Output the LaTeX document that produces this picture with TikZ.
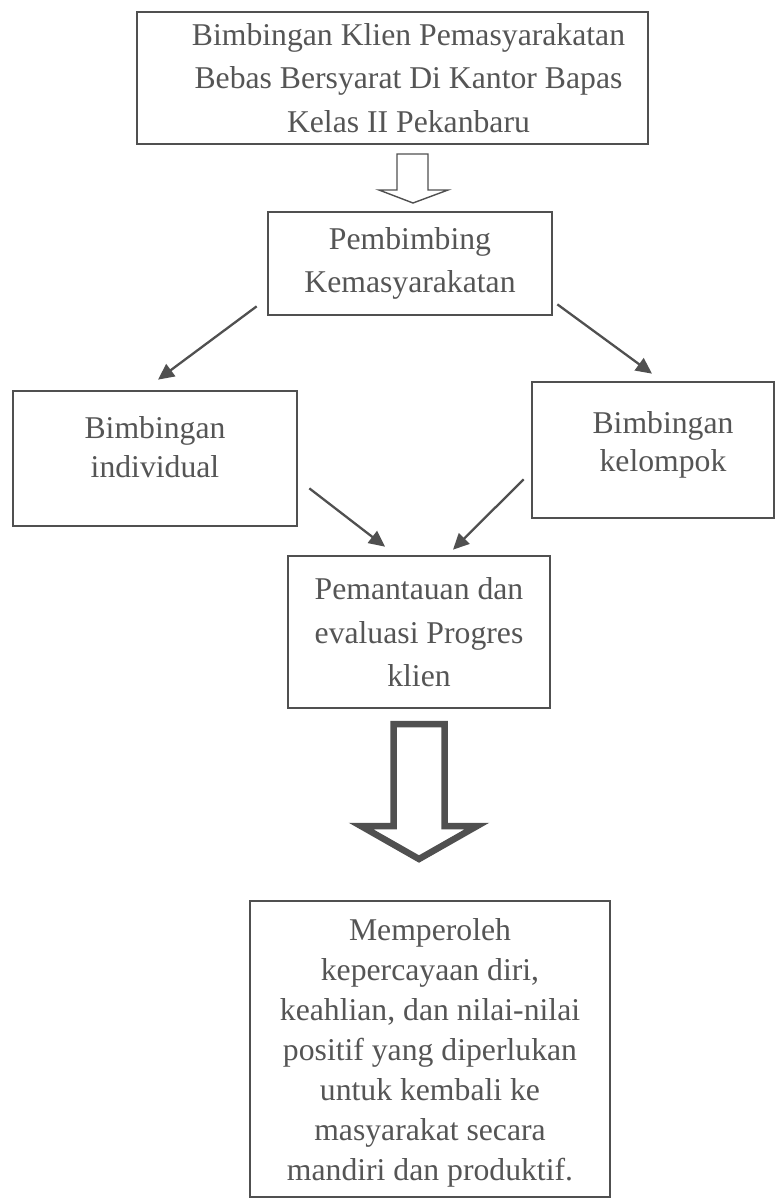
\documentclass[tikz,border=0pt]{standalone}
\usepackage{fontspec}
\setmainfont{Liberation Serif}
\usetikzlibrary{arrows.meta}
\definecolor{lc}{HTML}{505050}
\definecolor{tc}{HTML}{555555}
\newcommand{\ind}[1]{\hspace*{#1}}
\begin{document}
\begin{tikzpicture}[x=0.5pt,y=-0.5pt,
  box/.style={draw=lc, line width=1.35pt, inner sep=0pt, align=center, text=tc,
    font=\fontsize{15.85}{21.75}\selectfont},
  conn/.style={draw=lc, line width=1.15pt, -{Triangle[length=8pt,width=7.5pt]}},
  hollow/.style={draw=lc, fill=white, line join=miter}]
\useasboundingbox (0,0) rectangle (775,1200);
\node[box, minimum width=255.5pt, minimum height=66pt] (top) at (392.5,78)
  {\ind{16pt}Bimbingan Klien Pemasyarakatan\\\ind{16pt}Bebas Bersyarat Di Kantor Bapas\\\ind{16pt}Kelas II Pekanbaru};
\node[box, minimum width=142pt, minimum height=51.5pt] (pem) at (410,263.5)
  {Pembimbing\\Kemasyarakatan};
\node[box, minimum width=142pt, minimum height=67.5pt, font=\fontsize{15.85}{19.5}\selectfont, text depth=12pt] (ind) at (155,458.5)
  {Bimbingan\\individual};
\node[box, minimum width=121pt, minimum height=68pt, font=\fontsize{15.85}{19}\selectfont, text depth=9pt] (kel) at (653,450)
  {\ind{10pt}Bimbingan\\\ind{10pt}kelompok};
\node[box, minimum width=131pt, minimum height=76pt, text depth=-2pt] (mid) at (419,632)
  {Pemantauan dan\\evaluasi Progres\\klien};
\node[box, minimum width=180pt, minimum height=148pt, font=\fontsize{15.85}{20}\selectfont, text depth=-4.5pt] (bot) at (430,1049)
  {Memperoleh\\kepercayaan diri,\\keahlian, dan nilai-nilai\\positif yang diperlukan\\untuk kembali ke\\masyarakat secara\\mandiri dan produktif.};
% hollow arrows
\draw[hollow, line width=0.7pt] (397,154) -- (428,154) -- (428,190) -- (448,190) -- (413,203) -- (379,190) -- (397,190) -- cycle;
\draw[hollow, line width=3.25pt] (393.5,724) -- (444.5,724) -- (444.5,826) -- (477,826) -- (419,859) -- (361,826) -- (393.5,826) -- cycle;
% connectors
\draw[conn] ([shift={(-10,-10)}]pem.south west) -- ([shift={(3,-10)}]ind.north);
\draw[conn] ([shift={(4,-12)}]pem.south east) -- ([shift={(-1,-7)}]kel.north);
\draw[conn] ([shift={(11,-39)}]ind.south east) -- ([shift={(-34,-8)}]mid.north);
\draw[conn] ([shift={(-7,-40)}]kel.south west) -- ([shift={(34,-5)}]mid.north);
\end{tikzpicture}
\end{document}
